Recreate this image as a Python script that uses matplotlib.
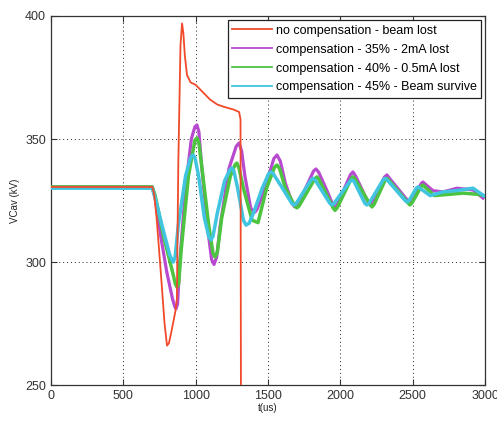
import matplotlib
matplotlib.use("Agg")
import matplotlib.pyplot as plt

labels = ["no compensation - beam lost",
          "compensation - 35% - 2mA lost",
          "compensation - 40% - 0.5mA lost",
          "compensation - 45% - Beam survive"]

red_t = [0, 700, 712, 730, 760, 785, 802, 815, 830, 860, 870, 880, 895, 906, 915, 925, 940,
         965, 1000, 1050, 1100, 1150, 1200, 1260, 1300, 1310, 1314]
red_v = [330.5, 330.5, 328, 318, 295, 275, 266, 267, 271, 280, 285, 340, 388, 397, 393, 384,
         376, 373, 372, 369, 366, 364, 363, 362, 361, 358, 200]

pur_t = [0, 700, 720, 760, 800, 840, 855, 864, 875, 890, 930, 970, 995, 1009, 1022, 1040,
         1080, 1110, 1127, 1145, 1170, 1230, 1280, 1300, 1318, 1340, 1380, 1400, 1410, 1425,
         1480, 1540, 1562, 1585, 1620, 1670, 1686, 1705, 1760, 1815, 1832, 1850, 1900, 1950,
         1963, 1980, 2070, 2087, 2105, 2190, 2205, 2222, 2305, 2322, 2340, 2465, 2481, 2500,
         2560, 2571, 2590, 2640, 2710, 2806, 2917, 2986]
pur_v = [330.5, 330.5, 326, 310, 296, 285, 282, 281, 283, 300, 330, 350, 355, 355.7, 353, 340,
         315, 301, 299, 302, 315, 338, 347, 348.4, 345, 335, 322, 320.5, 320.3, 321.5,
         330, 342, 343.5, 341, 332, 323.5, 322.4, 323.5, 330, 337, 337.8, 336.5, 330, 323,
         322, 323.5, 335.5, 336.6, 335, 324.5, 323.2, 324.5, 334.5, 335.4, 334, 325, 324,
         325.5, 332, 332.5, 331.5, 329, 328.5, 330, 329.3, 326]

grn_t = [0, 700, 720, 780, 840, 860, 871, 882, 900, 950, 995, 1009, 1022, 1050, 1090, 1120,
         1134, 1150, 1180, 1240, 1272, 1285, 1300, 1330, 1390, 1431, 1490, 1545, 1562, 1580,
         1620, 1685, 1700, 1715, 1825, 1838, 1853, 1950, 1963, 1978, 2075, 2087, 2100, 2205,
         2219, 2233, 2310, 2322, 2336, 2468, 2481, 2495, 2560, 2571, 2585, 2650, 2750, 2850,
         2950, 2990]
grn_v = [330.5, 330.5, 327, 310, 296, 291, 289.8, 291, 305, 335, 349.5, 350.4, 348.5, 335, 315,
         303.5, 302, 304, 318, 335, 339.5, 340.2, 338, 330, 317, 316, 330, 338.5, 339.4, 338,
         330, 322.8, 322, 322.8, 334, 334.6, 333.5, 322, 321, 322, 333.8, 334.6, 333.8, 323.4,
         322.4, 323.4, 333.3, 334, 333.2, 324, 323.2, 324, 330.8, 331.3, 330.5, 327, 327.5,
         328, 327.5, 327]

cya_t = [0, 700, 720, 780, 820, 835, 845, 858, 880, 930, 965, 981, 995, 1020, 1060, 1092,
         1106, 1120, 1150, 1200, 1238, 1251, 1265, 1290, 1330, 1348, 1370, 1400, 1460, 1505,
         1520, 1535, 1600, 1665, 1680, 1695, 1798, 1811, 1825, 1928, 1942, 1956, 2067, 2080,
         2094, 2170, 2184, 2198, 2296, 2309, 2323, 2448, 2461, 2475, 2525, 2537, 2550, 2620,
         2710, 2800, 2917, 2990]
cya_v = [330, 330, 326, 312, 303, 301, 300, 302, 315, 335, 342.5, 343.5, 342.5, 335, 318, 310,
         309, 310.5, 320, 333, 337.6, 338.2, 336.8, 330, 317, 315, 315.8, 320, 330, 336,
         336.6, 336, 330, 323.8, 323.2, 323.8, 333.4, 334, 333.4, 323.8, 323.2, 323.8, 332.8,
         333.3, 332.8, 323.8, 323.2, 323.8, 333.4, 334, 333.4, 325, 324.4, 325, 330, 330.5,
         330, 327, 328.5, 329, 330, 327]

xticks = [0, 500, 1000, 1500, 2000, 2500, 3000]
yticks = [250, 300, 350, 400]

plt.rcParams['font.family'] = ['Liberation Sans', 'DejaVu Sans']

fig = plt.figure(figsize=(4.97, 4.21), dpi=100)
ax = fig.add_axes([0.1026, 0.0855, 0.8733, 0.8765])

l1, = ax.plot(red_t, red_v, color='#f04a2a', lw=1.3, zorder=5, label=labels[0])
l2, = ax.plot(pur_t, pur_v, color='#b84ad0', lw=2.3, zorder=2, label=labels[1])
l3, = ax.plot(grn_t, grn_v, color='#4cc440', lw=2.5, zorder=3, label=labels[2])
l4, = ax.plot(cya_t, cya_v, color='#40c4e0', lw=2.5, zorder=4, label=labels[3])

ax.set_xlim(0, 3000)
ax.set_ylim(250, 400)
ax.set_xticks(xticks)
ax.set_yticks(yticks)
ax.tick_params(direction='in', length=4, labelsize=9, colors='#333333', top=True, right=True,
               labeltop=False, labelright=False)
ax.grid(True, linestyle=(0, (1, 3)), color='#222222', linewidth=0.7)
for s in ax.spines.values():
    s.set_color('#333333')
    s.set_linewidth(0.9)

ax.set_xlabel('t(us)', fontsize=7, labelpad=1, color='#222222')
ax.set_ylabel('VCav (kV)', fontsize=7, labelpad=4, color='#222222')

leg = ax.legend(handles=[l1, l2, l3, l4], loc='upper right', bbox_to_anchor=(0.991, 0.988),
                borderaxespad=0, fontsize=9, fancybox=False, framealpha=1,
                edgecolor='#222222', labelspacing=0.55, handlelength=3.2, handletextpad=0.3,
                borderpad=0.35)
leg.get_frame().set_linewidth(0.9)
for h in leg.get_lines():
    h.set_linewidth(1.3)
leg.set_zorder(10)

fig.savefig('out.png', dpi=100)
